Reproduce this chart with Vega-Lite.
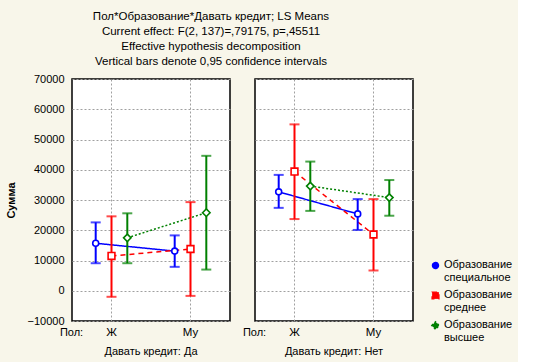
{
  "$schema": "https://vega.github.io/schema/vega-lite/v6.json",
  "background": "#f8f6ea",
  "padding": {"left": 5, "top": 10, "right": 5, "bottom": 5},
  "title": {
    "text": ["Пол*Образование*Давать кредит; LS Means", "Current effect: F(2, 137)=,79175, p=,45511", "Effective hypothesis decomposition", "Vertical bars denote 0,95 confidence intervals"],
    "font": "Liberation Sans", "fontSize": 11.5, "fontWeight": "normal", "color": "#000000",
    "lineHeight": 15.3, "anchor": "start", "align": "center", "dx": 205, "offset": 5
  },
  "data": {"values": [
    {"credit": "Да", "sex": "Ж", "edu": "Образование специальное", "mean": 15700, "lo": 9100, "hi": 22600},
    {"credit": "Да", "sex": "Му", "edu": "Образование специальное", "mean": 13100, "lo": 7900, "hi": 18300},
    {"credit": "Да", "sex": "Ж", "edu": "Образование среднее", "mean": 11500, "lo": -2000, "hi": 24600},
    {"credit": "Да", "sex": "Му", "edu": "Образование среднее", "mean": 13800, "lo": -1700, "hi": 29300},
    {"credit": "Да", "sex": "Ж", "edu": "Образование высшее", "mean": 17500, "lo": 9100, "hi": 25600},
    {"credit": "Да", "sex": "Му", "edu": "Образование высшее", "mean": 25800, "lo": 7000, "hi": 44600},
    {"credit": "Нет", "sex": "Ж", "edu": "Образование специальное", "mean": 32700, "lo": 27400, "hi": 38300},
    {"credit": "Нет", "sex": "Му", "edu": "Образование специальное", "mean": 25400, "lo": 20100, "hi": 30300},
    {"credit": "Нет", "sex": "Ж", "edu": "Образование среднее", "mean": 39400, "lo": 23700, "hi": 55000},
    {"credit": "Нет", "sex": "Му", "edu": "Образование среднее", "mean": 18600, "lo": 6700, "hi": 30300},
    {"credit": "Нет", "sex": "Ж", "edu": "Образование высшее", "mean": 34600, "lo": 26400, "hi": 42700},
    {"credit": "Нет", "sex": "Му", "edu": "Образование высшее", "mean": 30800, "lo": 24800, "hi": 36600}
  ]},
  "facet": {
    "column": {
      "field": "credit", "type": "nominal", "sort": ["Да", "Нет"],
      "header": {"labelOrient": "bottom", "title": null, "labelExpr": "'Давать кредит: ' + datum.value",
        "labelFont": "Liberation Sans", "labelFontSize": 11, "labelColor": "#000000", "labelPadding": 8}
    }
  },
  "spacing": 23,
  "spec": {
    "width": 158,
    "height": 242,
    "encoding": {
      "x": {
        "field": "sex", "type": "nominal", "sort": ["Ж", "Му"],
        "scale": {"type": "band", "paddingInner": 0, "paddingOuter": 0},
        "title": "Пол:",
        "axis": {"labelAngle": 0, "ticks": false, "labelPadding": 4, "bandPosition": 0.5,
          "grid": true, "gridColor": "#a0a0a0", "gridDash": [2, 2], "gridWidth": 1,
          "domain": false, "labelFont": "Liberation Sans", "labelFontSize": 11.5, "labelColor": "#000000",
          "titleFont": "Liberation Sans", "titleFontSize": 11, "titleFontWeight": "normal", "titleColor": "#000000",
          "titleX": -1, "titleY": 10, "titleAlign": "center", "titleBaseline": "middle", "titleAnchor": null}
      },
      "xOffset": {
        "field": "edu", "type": "nominal",
        "sort": ["Образование специальное", "Образование среднее", "Образование высшее"],
        "scale": {"type": "band", "paddingInner": 0, "paddingOuter": 1.79}
      },
      "color": {
        "field": "edu", "type": "nominal", "title": null,
        "sort": ["Образование специальное", "Образование среднее", "Образование высшее"],
        "scale": {"domain": ["Образование специальное", "Образование среднее", "Образование высшее"], "range": ["#0000ff", "#ff0000", "#008000"]},
        "legend": {"orient": "none", "legendX": 358, "legendY": 181,
          "symbolFillColor": "white", "symbolStrokeWidth": 1.4,
          "encode": {
            "labels": {"update": {"text": {"signal": "split(datum.label, ' ')"}, "baseline": {"value": "top"}, "dy": {"value": -7}}}
          }}
      }
    },
    "layer": [
      {
        "mark": {"type": "line", "strokeWidth": 1.5},
        "encoding": {
          "y": {"field": "mean", "type": "quantitative", "scale": {"domain": [-10000, 70000], "nice": false},
            "title": "Сумма",
            "axis": {"tickCount": 8, "ticks": false, "labelPadding": 7,
              "labelOverlap": false,
              "grid": true, "gridColor": "#a0a0a0", "gridDash": [2, 2], "gridWidth": 1, "domain": false,
              "format": "d", "labelFont": "Liberation Sans", "labelFontSize": 11, "labelColor": "#000000",
              "titleFont": "Liberation Sans", "titleFontSize": 11, "titleFontWeight": "bold", "titleColor": "#000000", "titlePadding": 10}},
          "strokeDash": {"field": "edu", "type": "nominal", "legend": null,
            "scale": {"domain": ["Образование специальное", "Образование среднее", "Образование высшее"], "range": [[1, 0], [5, 4], [2, 2]]}}
        }
      },
      {
        "mark": {"type": "rule", "strokeWidth": 2},
        "encoding": {"y": {"field": "lo", "type": "quantitative"}, "y2": {"field": "hi"}}
      },
      {
        "mark": {"type": "tick", "thickness": 2, "size": 10},
        "encoding": {"y": {"field": "lo", "type": "quantitative"}}
      },
      {
        "mark": {"type": "tick", "thickness": 2, "size": 10},
        "encoding": {"y": {"field": "hi", "type": "quantitative"}}
      },
      {
        "mark": {"type": "point", "filled": false, "fill": "white", "fillOpacity": 1, "opacity": 1, "strokeWidth": 1.6},
        "encoding": {
          "y": {"field": "mean", "type": "quantitative"},
          "shape": {"field": "edu", "type": "nominal", "title": null,
            "scale": {"domain": ["Образование специальное", "Образование среднее", "Образование высшее"], "range": ["circle", "square", "diamond"]},
            "legend": {"orient": "none", "legendX": 358, "legendY": 181,
              "symbolFillColor": "white", "symbolStrokeWidth": 1.4,
              "encode": {
                "labels": {"update": {"text": {"signal": "split(datum.label, ' ')"}, "baseline": {"value": "top"}, "dy": {"value": -7}}}
              }}},
          "size": {"field": "edu", "type": "nominal", "legend": null,
            "scale": {"domain": ["Образование специальное", "Образование среднее", "Образование высшее"], "range": [36, 56, 36]}}
        }
      }
    ]
  },
  "config": {
    "view": {"fill": "white", "stroke": "#000000", "strokeWidth": 1.5},
    "axisY": {"labelOverlap": false, "tickCount": 8},
    "legend": {
      "labelFont": "Liberation Sans", "labelFontSize": 11, "labelColor": "#000000", "labelLimit": 200,
      "symbolSize": 40, "rowPadding": 5, "labelOffset": 3
    }
  }
}
